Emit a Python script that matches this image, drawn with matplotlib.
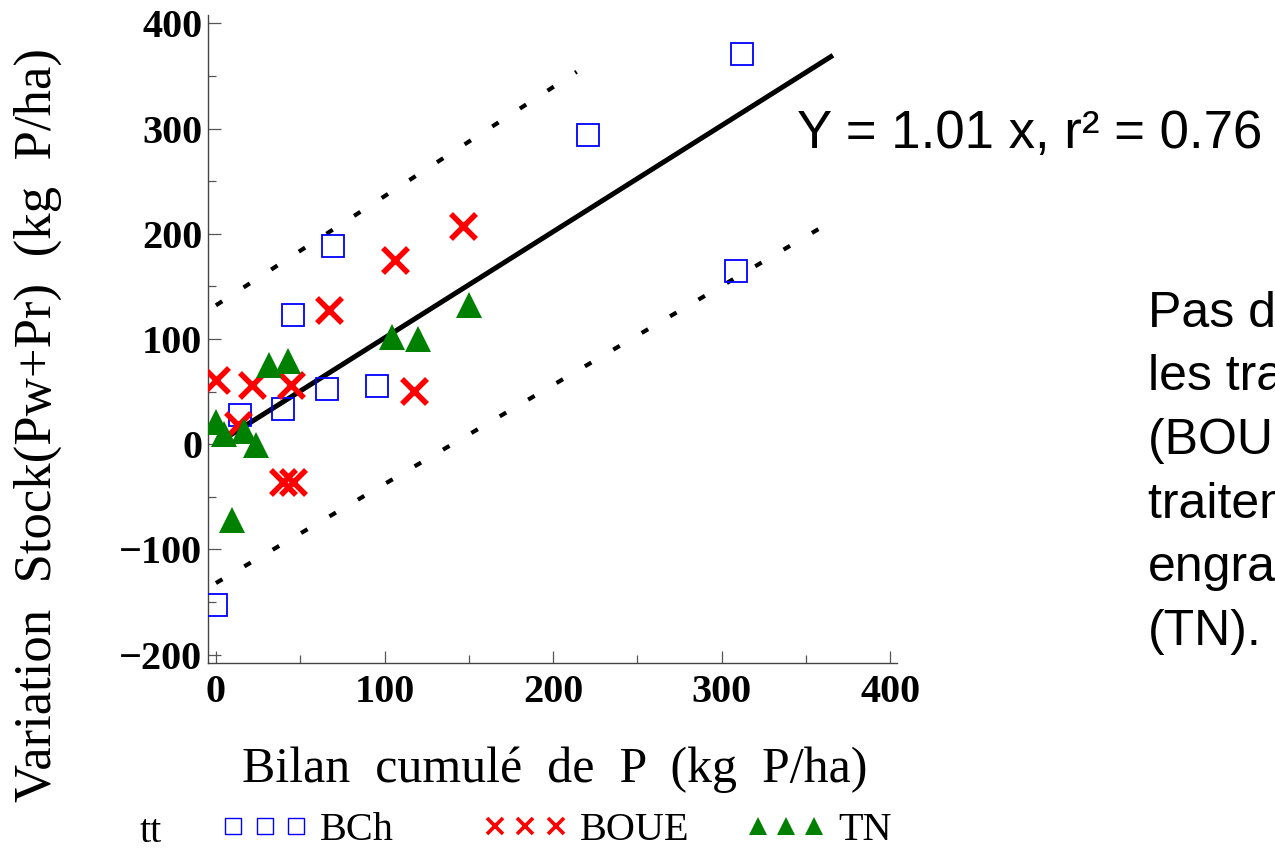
from matplotlib import pyplot as plt
from matplotlib.lines import Line2D
import numpy as np

#%% DATA

# BCh (blue open squares)
bch_x = [312, 221, 69.4, 45.7, 308.6, 65.9, 95.5, 39.8, 14.2, 0]
bch_y = [371, 294, 188, 123, 165, 52, 55, 33, 28, -153]

# BOUE (red crosses)
boue_x = [146.3, 106, 67, 0, 21.4, 44.5, 117.5, 13, 39.8, 45.7]
boue_y = [207, 175, 128, 61, 56, 56, 51, 18, -36, -36]

# TN (green triangles)
tn_x = [150, 104.5, 120, 31.5, 42.7, 0, 5, 16.6, 23.7, 9.5]
tn_y = [132, 102, 100, 75, 79, 21, 10, 13, -1, -72]

# regression through origin
fit_slope = 1.01
fit_x = np.array([0, 366])

# prediction band ends (dotted)
upper_x = [0, 214]
upper_y = [132, 354]
lower_x = [0, 358]
lower_y = [-132, 205]

x_ticks = [0, 100, 200, 300, 400]
y_ticks = [-200, -100, 0, 100, 200, 300, 400]

serif = 'Liberation Serif'
sans = 'Liberation Sans'

#%% Figure
fig = plt.figure(figsize=(12.75, 8.5), dpi=100)
ax = fig.add_axes([208/1275, 1-663/850, 689/1275, 648/850])

ax.plot(fit_x, fit_slope*fit_x, color='k', lw=3.6, solid_capstyle='butt', zorder=2)
ax.plot(upper_x, upper_y, color='k', lw=3.0, linestyle=(0, (1.8, 6.1)),
        dash_capstyle='butt', zorder=2)
ax.plot(lower_x, lower_y, color='k', lw=3.0, linestyle=(0, (1.8, 6.1)),
        dash_capstyle='butt', zorder=2)

ax.plot(bch_x, bch_y, 's', ms=16.5, mfc='none', mec='#0000ff', mew=1.3, zorder=3)
ax.plot(boue_x, boue_y, 'x', ms=18, mec='#ff0000', mew=4.0, zorder=3)
ax.plot(tn_x, tn_y, '^', ms=19, mfc='#008000', mec='#008000', mew=0, zorder=3)

ax.set_xlim(-4.7, 404)
ax.set_ylim(-208, 408)
ax.set_xticks(x_ticks)
ax.set_yticks(y_ticks)
ax.set_xticks(np.arange(50, 400, 100), minor=True)
ax.set_yticks(np.arange(-150, 400, 100), minor=True)

for s in ['top', 'right']:
    ax.spines[s].set_visible(False)
for s in ['left', 'bottom']:
    ax.spines[s].set_color('#444444')
    ax.spines[s].set_linewidth(1.0)

ax.tick_params(which='major', direction='in', length=9, width=0.9, color='#555555')
ax.tick_params(which='minor', direction='in', length=6, width=0.9, color='#555555')
ax.tick_params(axis='y', pad=4)
ax.tick_params(axis='x', pad=8)
for lab in ax.get_xticklabels() + ax.get_yticklabels():
    lab.set_fontfamily(serif)
    lab.set_fontweight('bold')
    lab.set_fontsize(29)

ax.set_xlabel('Bilan  cumulé  de  P  (kg  P/ha)', family=serif, fontsize=36, va='center')
ax.xaxis.set_label_coords(0.503, -0.165)
ax.set_ylabel('Variation  Stock(Pw+Pr)  (kg  P/ha)', family=serif, fontsize=38, va='center')
ax.yaxis.set_label_coords(-0.247, 0.367)

# equation and comment (comment runs off the right edge, as in the slide)
fig.text(797/1275, 1-148/850, 'Y = 1.01 x, r² = 0.76', family=sans, fontsize=38,
         va='baseline', ha='left')
fig.text(1148/1275, 1-645/850,
         'Pas de différence entre\nles traitements boue\n(BOUE), BCh et le\n'
         'traitement sans\nengrais\n(TN).',
         family=sans, fontsize=36, va='baseline', ha='left', linespacing=1.49)

# legend at bottom, one block per treatment
legend_items = [
    ('BCh', dict(marker='s', ms=11, mfc='none', mec='#0000ff', mew=1.0), 221, 2.16),
    ('BOUE', dict(marker='x', ms=12, mec='#ff0000', mew=2.6), 483, 2.1),
    ('TN', dict(marker='^', ms=13, mfc='#008000', mec='#008000', mew=0), 746, 2.0),
]
for label, style, x0, hl in legend_items:
    leg = fig.legend([Line2D([], [], ls='none', **style)], [label], loc='center left',
                     bbox_to_anchor=(x0/1275, 1-830/850), numpoints=3,
                     frameon=False, borderpad=0, borderaxespad=0, handlelength=hl,
                     handletextpad=0.3, prop={'family': serif, 'size': 29})
fig.text(140/1275, 1-842/850, 'tt', family=serif, fontsize=29, va='baseline')

plt.savefig('out.png', dpi=100)
